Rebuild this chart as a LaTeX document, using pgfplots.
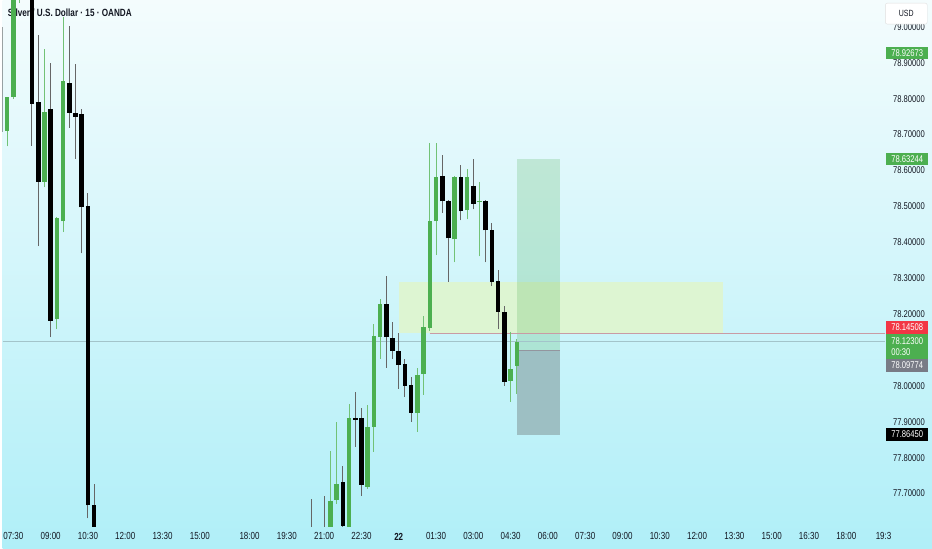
\documentclass[border=0pt]{standalone}
\usepackage{fontspec}
\setmainfont{Liberation Sans}[FakeStretch=0.78]
\usepackage{pgfplots}
\usepackage{pgfplotstable}
\pgfplotsset{compat=1.18}

\definecolor{tvgreen}{HTML}{4CAF50}
\definecolor{tvgreenwick}{HTML}{72C276}
\definecolor{tvblackwick}{HTML}{666666}
\definecolor{tvred}{HTML}{F23645}
\definecolor{tvgray}{HTML}{787B86}
\definecolor{bgtop}{HTML}{F4FCFD}
\definecolor{bgbot}{HTML}{B0EFF8}
\definecolor{zone}{HTML}{DDF5D2}
\definecolor{redline}{HTML}{C99BA4}
\definecolor{lastline}{HTML}{A3C4CA}
\definecolor{stopfill}{HTML}{9DBFC3}
\definecolor{titlecol}{HTML}{131722}

% 15 min bars, i = bar index (0 = 07:30)
\pgfplotstableread{
i   O       H       L       C
-1  78.711  78.806  78.667  78.806
0   78.806  79.150  78.799  79.120
1   79.120  79.250  79.066  79.200
5   78.569  78.939  78.553  78.764
7   78.186  78.470  78.158  78.469
8   78.458  79.028  78.428  78.850
51  77.550  77.819  77.500  77.678
52  77.683  77.900  77.672  77.728
54  77.580  77.950  77.570  77.911
57  77.719  77.947  77.714  77.886
58  77.886  78.172  77.817  78.139
59  78.136  78.242  78.075  78.228
65  77.925  78.050  77.872  78.031
66  78.033  78.194  77.975  78.164
67  78.161  78.678  78.153  78.458
68  78.458  78.678  78.364  78.581
71  78.408  78.586  78.344  78.581
73  78.489  78.603  78.464  78.581
75  78.511  78.569  78.361  78.514
80  78.014  78.150  77.956  78.047
81  78.056  78.131  77.978  78.123
}\greens

\pgfplotstableread{
i   O       H       L       C
-2  79.000  79.000  78.700  78.708
3   79.100  79.120  78.669  78.786
4   78.792  78.978  78.389  78.569
6   78.772  78.900  78.136  78.181
9   78.844  79.003  78.719  78.761
10  78.761  78.897  78.633  78.750
11  78.758  78.772  78.369  78.497
12  78.500  78.536  77.631  77.667
13  77.669  77.728  77.500  77.550
48  77.580  77.686  77.500  77.550
50  77.580  77.692  77.500  77.520
53  77.733  77.778  77.608  77.611
55  77.911  77.983  77.831  77.906
56  77.911  77.939  77.694  77.725
60  78.228  78.306  78.050  78.136
61  78.133  78.178  78.075  78.097
62  78.097  78.147  77.992  78.058
63  78.061  78.075  77.969  78.000
64  78.003  78.025  77.900  77.925
69  78.586  78.644  78.483  78.514
70  78.514  78.519  78.289  78.411
72  78.581  78.614  78.461  78.486
74  78.558  78.633  78.492  78.508
76  78.514  78.519  78.344  78.433
77  78.433  78.453  78.278  78.289
78  78.292  78.322  78.158  78.206
79  78.206  78.222  78.000  78.011
}\blacks

\tikzset{pricebox/.style={anchor=west, xshift=1pt, fill=#1, text=white,
  font=\fontsize{9.8}{11}\selectfont, minimum width=42pt, minimum height=12.5pt, inner sep=1pt}}
\pgfplotsset{candle/.style n args={2}{draw=none, mark=none, forget plot,
  error bars/.cd, y dir=plus, y explicit, error mark=none,
  error bar style={draw=#1, line width=#2}}}

\begin{document}
\begin{tikzpicture}
\shade[top color=bgtop, bottom color=bgbot] (0pt,0pt) rectangle (932pt,550pt);
\node[anchor=west, inner sep=0pt, text=titlecol, font=\bfseries\fontsize{10.5}{12}\selectfont] at (5pt,537pt) {Silver / U.S. Dollar · 15 · OANDA};

\begin{axis}[
  at={(0pt,22pt)}, anchor=south west,
  width=885pt, height=528pt, scale only axis,
  xmin=-1.716, xmax=140.25,
  ymin=77.6083, ymax=79.075,
  clip mode=individual,
  axis line style={draw=none},
  major tick length=0pt,
  tick style={draw=none},
  xtick={0,6,12,18,24,30,38,44,50,56,62,68,74,80,86,92,98,104,110,116,122,128,134,140},
  xticklabels={07:30,09:00,10:30,12:00,13:30,15:00,18:00,19:30,21:00,22:30,\textbf{22},01:30,03:00,04:30,06:00,07:30,09:00,10:30,12:00,13:30,15:00,16:30,18:00,19:3},
  xticklabel style={anchor=center, yshift=-10pt, font=\fontsize{10.3}{11}\selectfont, text=titlecol},
  ytick={77.7,77.8,77.9,78.0,78.2,78.3,78.4,78.5,78.6,78.7,78.8,78.9,79.0},
  yticklabel pos=right,
  yticklabel style={anchor=west, xshift=4.5pt, font=\fontsize{9.8}{11}\selectfont, text=titlecol,
    /pgf/number format/fixed, /pgf/number format/fixed zerofill, /pgf/number format/precision=5},
  /pgf/number format/assume math mode=true,
]
% order block zone
\addplot[draw=none, fill=zone] coordinates {(61.97,78.148) (114.1,78.148) (114.1,78.289) (61.97,78.289)} -- cycle;
% long position tool
\addplot[draw=none, fill=tvgreen, fill opacity=0.22] coordinates {(81,78.09774) (88,78.09774) (88,78.63244) (81,78.63244)} -- cycle;
\addplot[draw=none, fill=stopfill] coordinates {(81,77.8645) (88,77.8645) (88,78.09774) (81,78.09774)} -- cycle;
\addplot[tvgray!80, line width=0.8pt] coordinates {(81,78.09774) (88,78.09774)};
% last price and level lines
\addplot[lastline, line width=0.6pt] coordinates {(-1.716,78.123) (140.25,78.123)};
\addplot[redline, line width=1.2pt] coordinates {(67,78.14508) (140.25,78.14508)};

% wicks
\addplot[candle={tvgreenwick}{1pt}] table[x=i, y=L, y error expr=\thisrow{H}-\thisrow{L}] {\greens};
\addplot[candle={tvblackwick}{1pt}] table[x=i, y=L, y error expr=\thisrow{H}-\thisrow{L}] {\blacks};
% bodies
\addplot[candle={tvgreen}{4.6pt}] table[x=i, y=O, y error expr=\thisrow{C}-\thisrow{O}] {\greens};
\addplot[candle={black}{4.6pt}] table[x=i, y=C, y error expr=\thisrow{O}-\thisrow{C}] {\blacks};

% price scale labels
\node[anchor=west, fill=white, draw=gray!25, rounded corners=2pt, minimum width=42pt, minimum height=21pt,
  font=\fontsize{9}{10}\selectfont, text=titlecol] at (axis cs:140.25,79.037) {USD};
\node[pricebox=tvgreen] at (axis cs:140.25,78.92673) {78.92673};
\node[pricebox=tvgreen] at (axis cs:140.25,78.63244) {78.63244};
\node[pricebox=tvred] at (axis cs:140.25,78.1625) {78.14508};
\node[pricebox=tvgreen, minimum height=25pt, align=left] at (axis cs:140.25,78.1097) {78.12300\\00:30};
\node[pricebox=tvgray] at (axis cs:140.25,78.0569) {78.09774};
\node[pricebox=black] at (axis cs:140.25,77.8645) {77.86450};
\end{axis}
\end{tikzpicture}
\end{document}
